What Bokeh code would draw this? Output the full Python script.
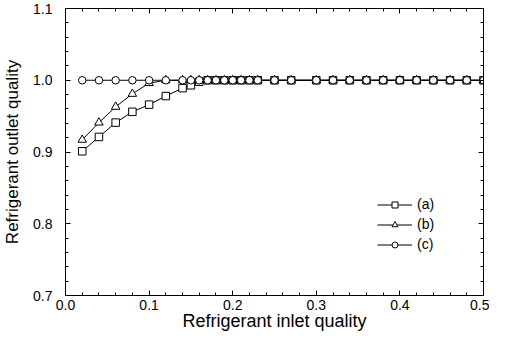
from bokeh.plotting import figure
from bokeh.models import (LinearAxis, FixedTicker, PrintfTickFormatter, Range1d,
                          Legend, LegendItem)
from bokeh.embed import file_html
from bokeh.resources import INLINE

# Data
inlet_quality = [0.02, 0.04, 0.06, 0.08, 0.10, 0.12, 0.14, 0.15, 0.16, 0.17,
                 0.18, 0.19, 0.20, 0.21, 0.22, 0.23, 0.25, 0.27, 0.30, 0.32,
                 0.34, 0.36, 0.38, 0.40, 0.42, 0.44, 0.46, 0.48, 0.50]
outlet_a = [0.901, 0.921, 0.941, 0.956, 0.966, 0.978, 0.989, 0.993, 0.998, 1.0,
            1.0, 1.0, 1.0, 1.0, 1.0, 1.0, 1.0, 1.0, 1.0, 1.0,
            1.0, 1.0, 1.0, 1.0, 1.0, 1.0, 1.0, 1.0, 1.0]
outlet_b = [0.917, 0.941, 0.963, 0.981, 0.996, 1.0, 1.0, 1.0, 1.0, 1.0,
            1.0, 1.0, 1.0, 1.0, 1.0, 1.0, 1.0, 1.0, 1.0, 1.0,
            1.0, 1.0, 1.0, 1.0, 1.0, 1.0, 1.0, 1.0, 1.0]
outlet_c = [1.0, 1.0, 1.0, 1.0, 1.0, 1.0, 1.0, 1.0, 1.0, 1.0,
            1.0, 1.0, 1.0, 1.0, 1.0, 1.0, 1.0, 1.0, 1.0, 1.0,
            1.0, 1.0, 1.0, 1.0, 1.0, 1.0, 1.0, 1.0, 1.0]
series_labels = ["(a)", "(b)", "(c)"]
series_markers = ["square", "triangle", "circle"]

x_major = [0.0, 0.1, 0.2, 0.3, 0.4, 0.5]
x_minor = [0.02, 0.04, 0.06, 0.08, 0.12, 0.14, 0.16, 0.18, 0.22, 0.24, 0.26, 0.28,
           0.32, 0.34, 0.36, 0.38, 0.42, 0.44, 0.46, 0.48]
y_major = [0.7, 0.8, 0.9, 1.0, 1.1]
y_minor = [0.72, 0.74, 0.76, 0.78, 0.82, 0.84, 0.86, 0.88, 0.92, 0.94, 0.96, 0.98,
           1.02, 1.04, 1.06, 1.08]

FONT = "Liberation Sans"

p = figure(width=489, height=333, output_backend="svg", toolbar_location=None,
           x_range=Range1d(0.0, 0.5), y_range=Range1d(0.7, 1.1),
           min_border_left=60, min_border_right=6, min_border_top=8,
           min_border_bottom=36)
p.xgrid.visible = False
p.ygrid.visible = False
p.outline_line_color = "black"
p.outline_line_width = 1
p.background_fill_color = "white"
p.border_fill_color = "white"

def style_axis(ax, major, minor, labels=True):
    ax.ticker = FixedTicker(ticks=major, minor_ticks=minor)
    ax.axis_line_color = "black"
    ax.axis_line_width = 1
    ax.major_tick_in = 5
    ax.major_tick_out = 0
    ax.minor_tick_in = 3
    ax.minor_tick_out = 0
    ax.major_tick_line_color = "black"
    ax.minor_tick_line_color = "black"
    if labels:
        ax.formatter = PrintfTickFormatter(format="%.1f")
        ax.major_label_text_font = FONT
        ax.major_label_text_color = "black"
        ax.major_label_text_font_size = "14px"
    else:
        ax.major_label_overrides = {t: "" for t in major}
        ax.major_label_standoff = 0
    ax.axis_label_text_font = FONT
    ax.axis_label_text_font_style = "normal"
    ax.axis_label_text_color = "black"

xa = p.xaxis[0]
ya = p.yaxis[0]
style_axis(xa, x_major, x_minor)
style_axis(ya, y_major, y_minor)
xa.axis_label = "Refrigerant inlet quality"
xa.axis_label_text_font_size = "18px"
xa.major_label_standoff = 4
xa.axis_label_standoff = -2
ya.axis_label = "Refrigerant outlet quality"
ya.axis_label_text_font_size = "17px"
ya.major_label_standoff = 13
ya.axis_label_standoff = 8

top = LinearAxis()
right = LinearAxis()
style_axis(top, x_major, x_minor, labels=False)
style_axis(right, y_major, y_minor, labels=False)
p.add_layout(top, "above")
p.add_layout(right, "right")

items = []
for ys, lab, mk in zip([outlet_a, outlet_b, outlet_c], series_labels, series_markers):
    lr = p.line(inlet_quality, ys, line_color="black", line_width=1)
    sr = p.scatter(inlet_quality, ys, marker=mk, size=7.5 if mk != "triangle" else 8.5,
                   fill_color="white", line_color="black", line_width=1)
    items.append(LegendItem(label=lab, renderers=[lr, sr]))

legend = Legend(items=items, location=(312, 43), orientation="vertical",
                glyph_width=35, glyph_height=15, spacing=4, padding=0, margin=0,
                label_standoff=5, label_text_font=FONT, label_text_font_size="14px",
                label_text_color="black", border_line_color=None,
                background_fill_alpha=0)
p.add_layout(legend, "center")

open("out.html", "w").write(file_html(p, INLINE))
